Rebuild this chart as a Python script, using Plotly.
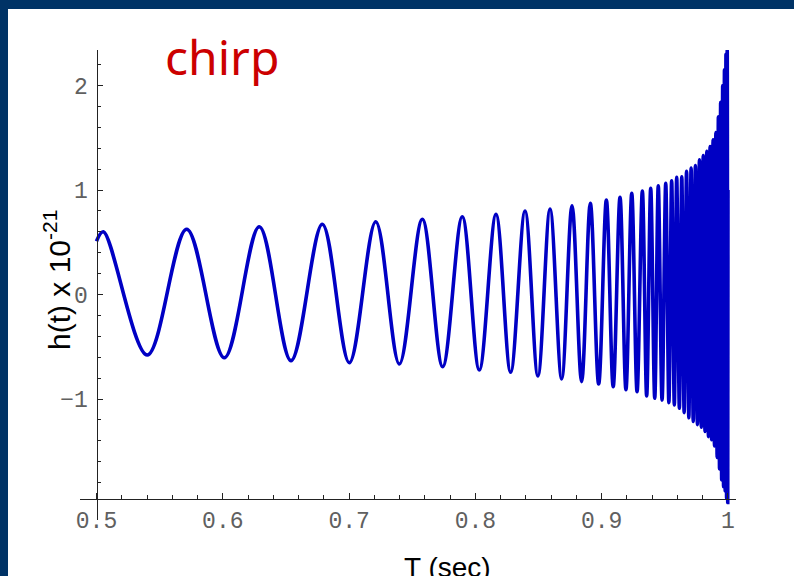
import plotly.graph_objects as go

# ---- data (extrema of the chirp waveform) ----
t_vals = [
    0.5000, 0.5054, 0.5402, 0.5714, 0.6012, 0.6289, 0.6540, 0.6788, 0.7002,
    0.7211, 0.7398, 0.7580, 0.7741, 0.7896, 0.8031, 0.8163, 0.8279, 0.8393,
    0.8495, 0.8591, 0.8683, 0.8765, 0.8841, 0.8910, 0.8976, 0.9037, 0.9091,
    0.9145, 0.9192, 0.9238, 0.9280, 0.9322, 0.9356, 0.9388, 0.9420, 0.9448,
    0.9478, 0.9507, 0.9532, 0.9554, 0.9575, 0.9594, 0.9615, 0.9634, 0.9653,
    0.9672, 0.9690, 0.9708, 0.9725, 0.9742, 0.9758, 0.9774, 0.9789, 0.9804,
    0.9818, 0.9832, 0.9845, 0.9858, 0.9870, 0.9882, 0.9893, 0.9904, 0.9914,
    0.9924, 0.9933, 0.9942, 0.9950, 0.9958, 0.9965, 0.9972, 0.9978, 0.9984,
    0.9989, 0.9994, 0.9998, 1.0000,
]
h_vals = [
    0.51, 0.600, -0.579, 0.624, -0.605, 0.649, -0.633, 0.672, -0.653,
    0.697, -0.665, 0.720, -0.691, 0.744, -0.722, 0.767, -0.744, 0.799,
    -0.780, 0.818, -0.809, 0.850, -0.834, 0.873, -0.856, 0.904, -0.882,
    0.930, -0.910, 0.968, -0.930, 0.990, -0.971, 1.016, -0.993, 1.041,
    -1.010, 1.064, -1.035, 1.089, -1.057, 1.121, -1.089, 1.127, -1.130,
    1.180, -1.180, 1.210, -1.215, 1.235, -1.245, 1.290, -1.270, 1.330,
    -1.310, 1.370, -1.360, 1.415, -1.390, 1.480, -1.450, 1.550, -1.560,
    1.700, -1.670, 1.840, -1.775, 2.000, -1.840, 2.150, -1.880, 2.300,
    -1.950, 2.340, -1.990, 1.000,
]

x_tickvals = [0.5, 0.6, 0.7, 0.8, 0.9, 1.0]
x_ticktext = ["0.5", "0.6", "0.7", "0.8", "0.9", "1"]
y_tickvals = [-1, 0, 1, 2]
y_ticktext = ["\u22121", "0", "1", "2"]
y_minor_vals = [-1.8, -1.6, -1.4, -1.2, -0.8, -0.6, -0.4, -0.2,
                0.2, 0.4, 0.6, 0.8, 1.2, 1.4, 1.6, 1.8, 2.2]

# ---- layout geometry (pixels) ----
W, H = 794, 576
L, R, T, B = 80, 58, 50, 56
PW, PH = W - L - R, H - T - B


def px_x(px):
    return (px - L) / PW


def px_y(py):
    return (H - B - py) / PH


NAVY = "#003366"
BLUE = "#0000c4"
TICKFONT = dict(family="Liberation Mono", size=23, color="#606060")

fig = go.Figure()
fig.add_trace(go.Scatter(
    x=t_vals, y=h_vals, mode="lines",
    line=dict(color=BLUE, width=3.6, shape="spline", smoothing=1, simplify=False),
    hoverinfo="skip", showlegend=False,
))

fig.update_layout(
    width=W, height=H, autosize=False,
    margin=dict(l=L, r=R, t=T, b=B, pad=0),
    paper_bgcolor="white", plot_bgcolor="rgba(0,0,0,0)",
    showlegend=False,
    xaxis=dict(
        range=[0.48694, 1.00634], tickmode="array",
        tickvals=x_tickvals, ticktext=x_ticktext,
        ticks="inside", ticklen=6, tickwidth=1, tickcolor="#222222",
        showline=True, linecolor="#222222", linewidth=1,
        showgrid=False, zeroline=False,
        anchor="free", position=px_y(499), automargin=False,
        tickfont=TICKFONT,
        minor=dict(tick0=0.5, dtick=0.02, ticks="inside", ticklen=4,
                   tickwidth=1, tickcolor="#222222", showgrid=False),
    ),
    yaxis=dict(
        range=[-2.158, 2.34], tickmode="array",
        tickvals=y_tickvals, ticktext=y_ticktext,
        ticks="inside", ticklen=5, tickwidth=1, tickcolor="#222222",
        showline=True, linecolor="#222222", linewidth=1,
        showgrid=False, zeroline=False,
        anchor="free", position=px_x(96.5), automargin=False,
        tickfont=TICKFONT, ticklabelstandoff=4,
        minor=dict(tickmode="array", tickvals=y_minor_vals, ticks="inside",
                   ticklen=3, tickwidth=1, tickcolor="#222222", showgrid=False),
    ),
    shapes=[
        dict(type="rect", xref="paper", yref="paper",
             x0=px_x(0), x1=px_x(W), y0=px_y(9), y1=px_y(0),
             fillcolor=NAVY, line=dict(width=0), layer="above"),
        dict(type="rect", xref="paper", yref="paper",
             x0=px_x(0), x1=px_x(8), y0=px_y(H), y1=px_y(0),
             fillcolor=NAVY, line=dict(width=0), layer="above"),
    ],
    annotations=[
        dict(text="chirp", xref="paper", yref="paper",
             x=px_x(221.5), y=px_y(56), xanchor="center", yanchor="middle",
             showarrow=False,
             font=dict(family="Noto Sans", size=48, color="#cc0000")),
        dict(text="h(t) x 10<sup>-21</sup>", xref="paper", yref="paper",
             x=px_x(57), y=px_y(280), xanchor="center", yanchor="middle",
             textangle=-90, showarrow=False,
             font=dict(family="Liberation Sans", size=30, color="black")),
        dict(text="T (sec)", xref="paper", yref="paper",
             x=px_x(447), y=px_y(550), xanchor="center", yanchor="top",
             showarrow=False,
             font=dict(family="Liberation Sans", size=28, color="black")),
    ],
)

fig.write_html(
    "out.html",
    config={"displayModeBar": False, "staticPlot": True},
    post_script="document.body.style.margin='0px';"
                "document.body.style.overflow='hidden';",
)
